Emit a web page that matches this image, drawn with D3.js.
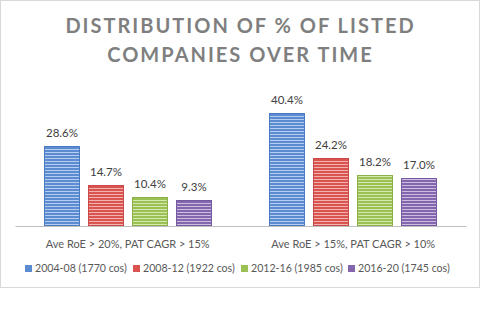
<!DOCTYPE html>
<html>
<head>
<meta charset="utf-8">
<script src="https://cdn.jsdelivr.net/npm/d3@7"></script>
<style>
html,body{margin:0;padding:0;background:#fff;}
svg{display:block;}
text{font-family:Lato,"Open Sans",sans-serif;}
</style>
</head>
<body>
<svg id="chart" width="481" height="326"></svg>
<script>
const titleLines = ["DISTRIBUTION OF % OF LISTED", "COMPANIES OVER TIME"];
const categories = ["Ave RoE > 20%, PAT CAGR > 15%", "Ave RoE > 15%, PAT CAGR > 10%"];
const seriesNames = ["2004-08 (1770 cos)", "2008-12 (1922 cos)", "2012-16 (1985 cos)", "2016-20 (1745 cos)"];
const s2004 = [28.6, 40.4];
const s2008 = [14.7, 24.2];
const s2012 = [10.4, 18.2];
const s2016 = [9.3, 17.0];
const seriesValues = [s2004, s2008, s2012, s2016];
const colors = ["#5b8bd0", "#d9534f", "#9bc053", "#8466ae"];
const lightColors = ["#b7cdef", "#f0b3b1", "#d5e8b0", "#cbbde0"];
const edgeColors = ["#4a7bc0", "#c94a46", "#8cb048", "#7559a0"];

const svg = d3.select("#chart");
const W = 481;

// border
svg.append("rect").attr("x",0.5).attr("y",0.5).attr("width",479).attr("height",287)
  .attr("fill","#fff").attr("stroke","#d9d9d9").attr("stroke-width",1);

// patterns
const defs = svg.append("defs");
colors.forEach((c,i)=>{
  const p = defs.append("pattern").attr("id","pat"+i).attr("patternUnits","userSpaceOnUse")
    .attr("width",4).attr("height",3);
  p.append("rect").attr("width",4).attr("height",3).attr("fill",c);
  p.append("rect").attr("y",2).attr("width",4).attr("height",1).attr("fill",lightColors[i]);
});

// title
svg.append("g").selectAll("text").data(titleLines).join("text")
  .attr("x", W/2).attr("y",(d,i)=> 33 + i*29)
  .attr("text-anchor","middle")
  .attr("font-size",20).attr("font-weight","bold")
  .attr("fill","#7f7f7f")
  .attr("letter-spacing","2px")
  .text(d=>d);

// scales
const x0 = d3.scaleBand().domain(categories).range([15,466]).paddingInner(0).paddingOuter(0);
const bwGroup = 168;
const x1 = d3.scaleBand().domain(d3.range(seriesNames.length))
  .range([(x0.bandwidth()-bwGroup)/2, (x0.bandwidth()+bwGroup)/2])
  .paddingInner(8/44).paddingOuter(0);
const y = d3.scaleLinear().domain([0,50]).range([226,86]);

const groups = svg.append("g").selectAll("g").data(categories).join("g")
  .attr("transform", d=>`translate(${x0(d)},0)`);

groups.each(function(cat, ci){
  const g = d3.select(this);
  const gx = x0(cat);
  seriesValues.forEach((vals, si)=>{
    const v = vals[ci];
    const bx = Math.round(gx + x1(si)) - gx;
    const bw = Math.round(x1.bandwidth());
    const top = Math.round(y(v));
    g.append("rect").attr("x",bx+0.5).attr("y",top+0.5)
      .attr("width",bw-1).attr("height",y(0)-top-1)
      .attr("fill",`url(#pat${si})`).attr("stroke",edgeColors[si]).attr("stroke-width",1);
    g.append("text").attr("x",bx+bw/2).attr("y",top-9)
      .attr("text-anchor","middle").attr("font-size",11.5).attr("fill","#404040")
      .text(v.toFixed(1)+"%");
  });
});

// axis
const xAxis = d3.axisBottom(x0).tickSize(0).tickPadding(14);
const ax = svg.append("g").attr("transform","translate(0,226)").call(xAxis);
ax.select(".domain").attr("stroke","#bfbfbf").attr("stroke-width",1.2);
ax.selectAll("text").attr("font-size",11).attr("fill","#595959")
  .attr("font-family","Lato,'Open Sans',sans-serif");

// legend
const leg = svg.append("g");
const items = leg.selectAll("g").data(seriesNames).join("g");
items.append("rect").attr("width",7).attr("height",7).attr("y",265)
  .attr("fill",(d,i)=>colors[i]);
items.append("text").attr("x",10).attr("y",272).attr("font-size",10.6).attr("fill","#595959").text(d=>d);
let cx = 0;
const pos = [];
items.each(function(){
  const tw = d3.select(this).select("text").node().getComputedTextLength();
  pos.push(cx);
  cx += 10 + tw + 6;
});
const total = cx - 6;
const startX = W/2 - 3 - total/2;
items.attr("transform",(d,i)=>`translate(${Math.round(startX+pos[i])},0)`);
</script>
</body>
</html>
